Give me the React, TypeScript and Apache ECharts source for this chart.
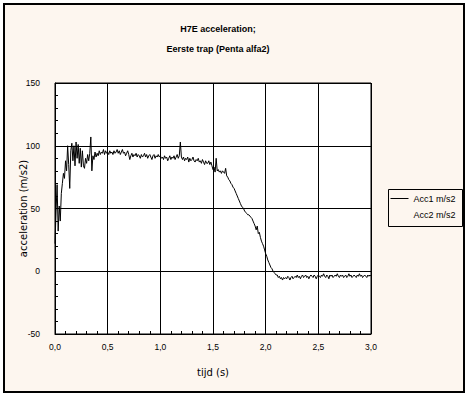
import React, { useEffect, useRef } from "react";
import * as echarts from "echarts";

const titleLines = ["H7E acceleration;", "Eerste trap (Penta alfa2)"];
const xAxisName = "tijd (s)";
const yAxisName = "acceleration (m/s2)";
const seriesNames = ["Acc1 m/s2", "Acc2 m/s2"];
const sampleStep = 0.01; // s, sampling interval of the trace

// Acc1 values (m/s2), one per 0.01 s
const acc1_000_049 = [22, 48, 69, 32, 52, 40, 62, 70, 78, 74, 88, 80, 100, 85, 66, 96, 102, 88, 100, 84, 103, 90, 101, 86, 98, 83, 96, 84, 82, 90, 86, 93, 88, 94, 107, 80, 92, 89, 95, 91, 94, 92, 96, 93, 95, 94, 97, 93, 96, 94];
const acc1_050_099 = [95, 93, 96, 94, 95, 93, 96, 94, 95, 97, 94, 96, 93, 95, 97, 94, 95, 92, 94, 96, 93, 89, 92, 94, 91, 93, 92, 94, 91, 93, 92, 90, 93, 91, 92, 94, 91, 93, 90, 92, 93, 91, 89, 92, 93, 90, 92, 91, 93, 91];
const acc1_100_149 = [92, 90, 91, 89, 92, 90, 91, 88, 90, 92, 89, 91, 90, 92, 89, 91, 93, 90, 92, 103, 91, 89, 91, 88, 90, 89, 91, 87, 90, 88, 89, 91, 88, 87, 89, 88, 90, 87, 88, 86, 89, 87, 85, 88, 86, 86, 88, 85, 87, 84];
const acc1_150_199 = [81, 83, 79, 90, 80, 81, 79, 80, 78, 80, 79, 78, 82, 76, 75, 73, 72, 70, 69, 67, 66, 64, 62, 60, 58, 56, 54, 52, 51, 50, 48, 47, 46, 45, 45, 44, 43, 42, 40, 38, 36, 33, 36, 30, 31, 27, 24, 22, 20, 17];
const acc1_200_249 = [14, 12, 9, 7, 5, 3, 2, 0, -1, -2, -3, -3, -5, -4, -6, -5, -7, -5, -6, -5, -6, -4, -5, -7, -5, -4, -6, -5, -4, -5, -3, -5, -4, -6, -4, -3, -5, -4, -3, -5, -4, -6, -4, -3, -4, -5, -3, -4, -6, -4];
const acc1_250_300 = [-3, -4, -5, -3, -4, -2, -4, -5, -3, -4, -6, -3, -4, -3, -5, -4, -3, -4, -2, -4, -5, -3, -4, -3, -5, -4, -3, -5, -4, -2, -4, -3, -5, -4, -3, -4, -5, -3, -4, -2, -4, -3, -5, -4, -3, -4, -5, -3, -4, -3, -4];

const acc1Values = [
  ...acc1_000_049,
  ...acc1_050_099,
  ...acc1_100_149,
  ...acc1_150_199,
  ...acc1_200_249,
  ...acc1_250_300,
];

const CREAM = "#FDF6EF";
const ARIAL = "'Liberation Sans', Arial, sans-serif";
const SANS = "'DejaVu Sans', sans-serif";

export default function App() {
  const ref = useRef<HTMLDivElement>(null);
  useEffect(() => {
    if (!ref.current) return;
    const chart = echarts.init(ref.current, null, { renderer: "svg" });
    const data = acc1Values.map((v, i) => [Number((i * sampleStep).toFixed(2)), v]);
    const fmt = (v: number) => v.toFixed(1).replace(".", ",");
    chart.setOption({
      animation: false,
      backgroundColor: "#ffffff",
      title: {
        text: titleLines.join("\n"),
        left: 213,
        top: 14,
        textAlign: "center",
        textStyle: {
          fontFamily: ARIAL,
          fontSize: 9,
          fontWeight: "bold",
          color: "#000",
          lineHeight: 20,
        },
      },
      graphic: [
        {
          type: "rect",
          z: -100,
          shape: { x: 4, y: 4, width: 460, height: 388 },
          style: { fill: CREAM, stroke: "#000", lineWidth: 2 },
        },
        {
          type: "rect",
          z: 1,
          shape: { x: 388.5, y: 189.5, width: 74, height: 37 },
          style: { fill: CREAM, stroke: "#000", lineWidth: 1 },
        },
      ],
      legend: {
        orient: "vertical",
        left: 388,
        top: 189,
        padding: [5, 4, 5, 2],
        itemGap: 7,
        itemWidth: 18,
        itemHeight: 10,
        z: 5,
        data: seriesNames,
        itemStyle: { opacity: 0 },
        lineStyle: { width: 1 },
        textStyle: { fontFamily: ARIAL, fontSize: 9, color: "#000" },
        selectedMode: false,
      },
      grid: {
        left: 55,
        right: 99,
        top: 83,
        bottom: 63,
        show: true,
        backgroundColor: "#ffffff",
        borderColor: "#000",
        borderWidth: 1,
        containLabel: false,
      },
      xAxis: {
        type: "value",
        min: 0,
        max: 3,
        interval: 0.5,
        name: xAxisName,
        nameLocation: "middle",
        nameGap: 33,
        nameMoveOverlap: false,
        nameTextStyle: { fontFamily: SANS, fontSize: 10, color: "#000" },
        axisLine: { show: true, onZero: false, lineStyle: { color: "#000", width: 1 } },
        axisTick: { show: false, inside: true },
        minorTick: { show: true, splitNumber: 5, length: 3, lineStyle: { color: "#000", width: 1 } },
        minorSplitLine: { show: false },
        splitLine: { show: true, lineStyle: { color: "#000", width: 1 } },
        axisLabel: { formatter: fmt, margin: 8, fontFamily: ARIAL, fontSize: 8.5, color: "#000" },
      },
      yAxis: {
        type: "value",
        min: -50,
        max: 150,
        interval: 50,
        name: yAxisName,
        nameLocation: "middle",
        nameGap: 27,
        nameMoveOverlap: false,
        nameTextStyle: { fontFamily: SANS, fontSize: 10, color: "#000" },
        axisLine: { show: true, onZero: false, lineStyle: { color: "#000", width: 1 } },
        axisTick: { show: false, inside: true },
        minorTick: { show: true, splitNumber: 5, length: 3, lineStyle: { color: "#000", width: 1 } },
        minorSplitLine: { show: false },
        splitLine: { show: true, lineStyle: { color: "#000", width: 1 } },
        axisLabel: { margin: 15, fontFamily: ARIAL, fontSize: 8.5, color: "#000" },
      },
      series: [
        {
          name: seriesNames[0],
          type: "line",
          data,
          symbol: "none",
          lineStyle: { color: "#000", width: 1 },
          itemStyle: { color: "#000" },
        },
        {
          name: seriesNames[1],
          type: "line",
          data: [],
          symbol: "none",
          lineStyle: { color: CREAM, width: 1 },
          itemStyle: { color: CREAM },
        },
      ],
    });
    return () => chart.dispose();
  }, []);
  return (
    <div
      ref={ref}
      style={{ position: "fixed", left: 0, top: 0, width: 470, height: 397 }}
    />
  );
}
